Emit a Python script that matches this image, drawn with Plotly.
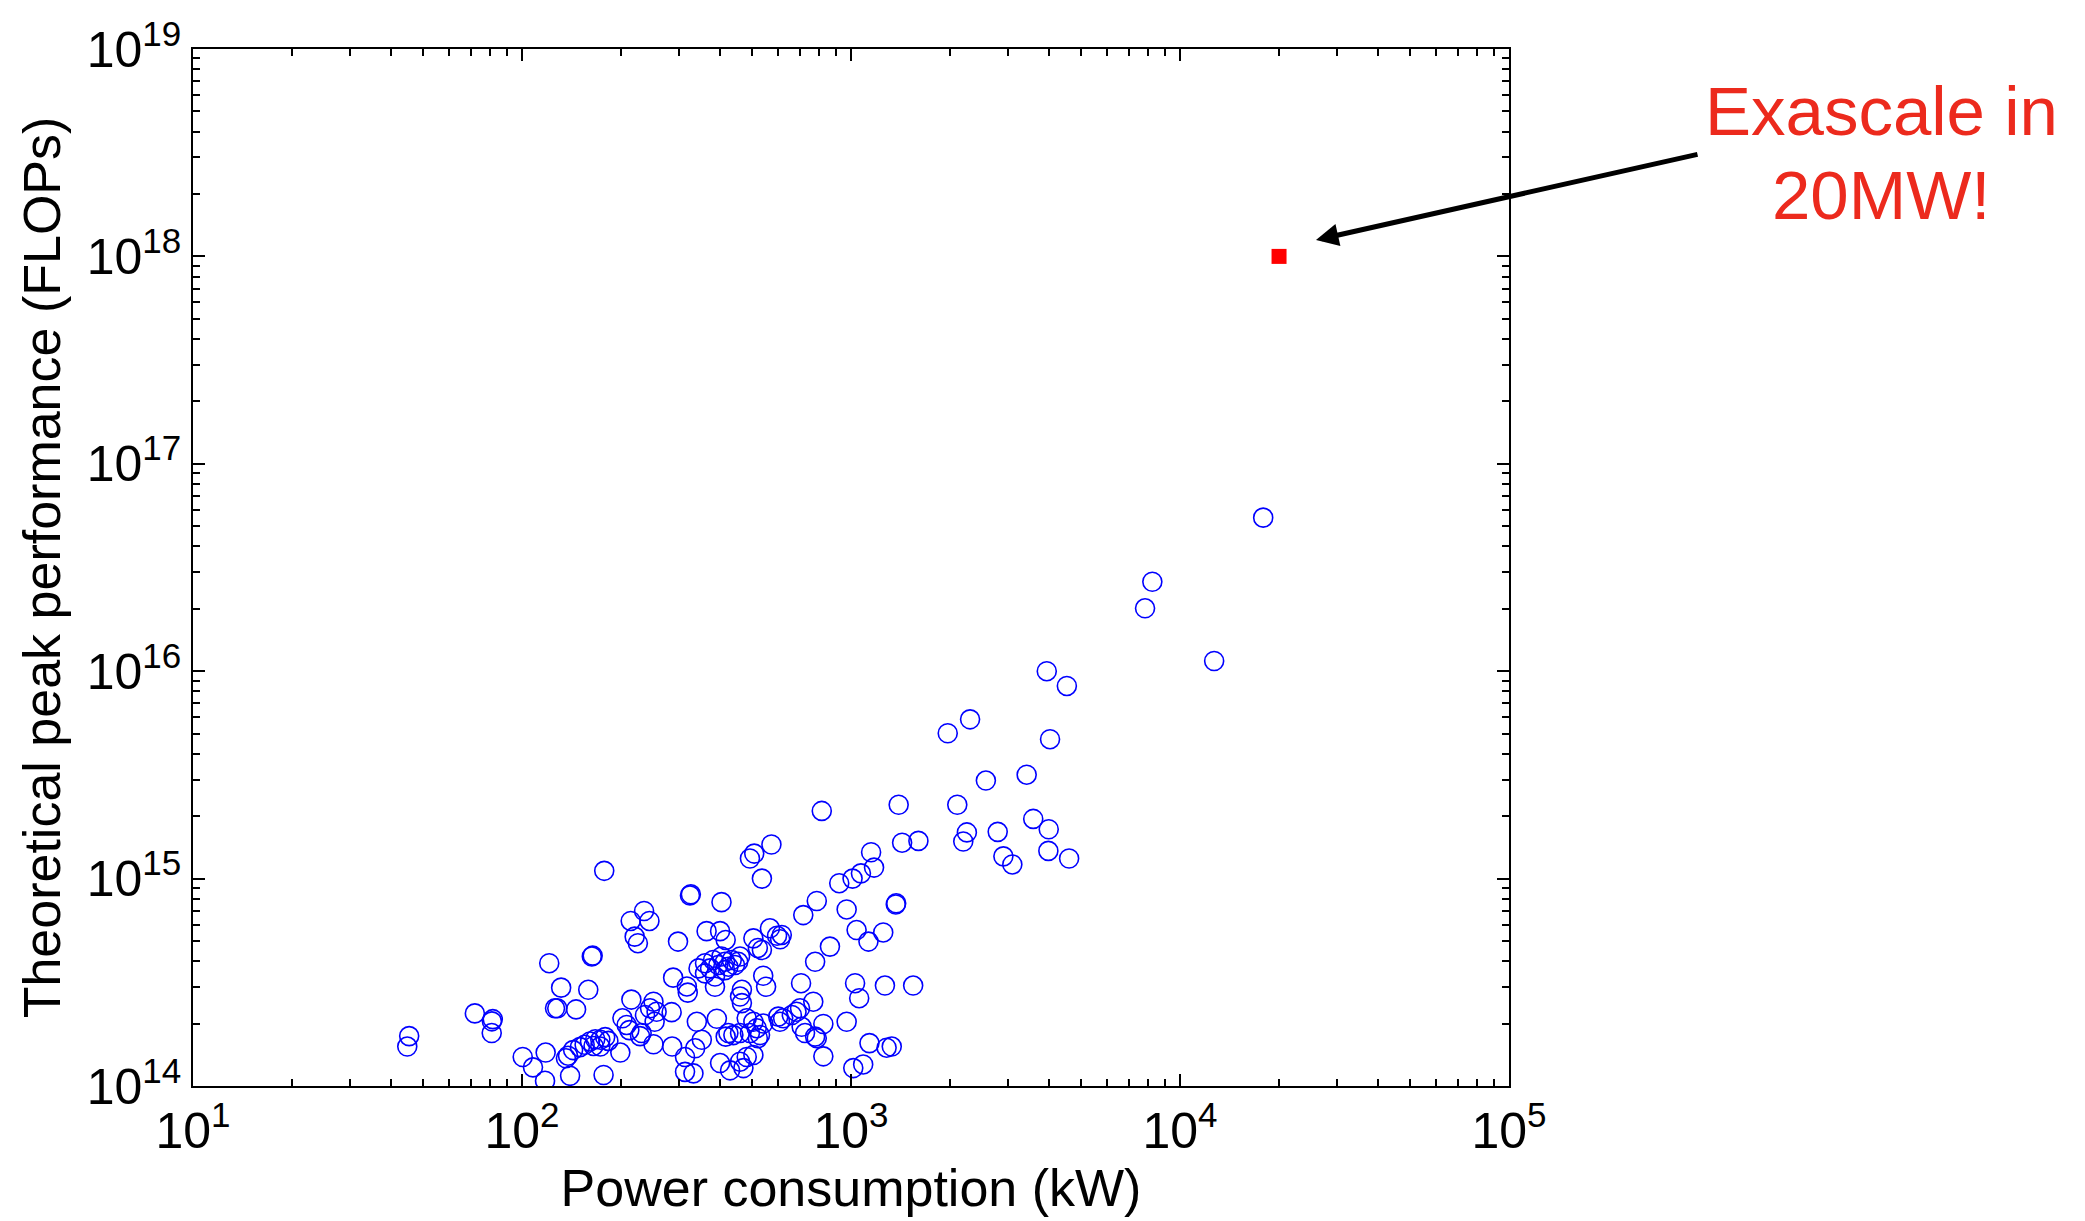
import math
import plotly.graph_objects as go

# ---- data ----
power_kw = [
    45.4, 44.8, 71.9, 81.5, 81.0, 80.9,
    100.5, 118, 108, 117.5, 140, 177, 199, 136, 138, 143, 150, 155, 161, 167,
    173, 179, 183, 173, 165, 121, 163, 164, 131.5, 159, 126, 128, 146, 177.8,
    215, 202, 208, 212, 228.5,
    251, 245, 256.5, 253, 236.5, 231, 251, 286, 285, 288, 317, 319,
    235, 244, 214, 220, 225, 298, 324, 326, 404,
    364, 400, 416, 505, 521, 536, 567, 596, 616, 609, 493, 508, 573, 536,
    787, 716, 970, 815, 921, 1011, 1072, 1151, 1175, 1430, 1603, 1368, 1372,
    1040, 1130, 1253, 863, 778, 705, 768, 1029, 1059, 1268, 1545, 970, 1138,
    1283, 1330, 1016, 1089, 824, 824, 778, 787, 700, 683, 661, 622, 608, 601,
    708, 725, 541, 517, 529, 493, 521, 505, 482, 460, 439, 424, 416,
    466, 460, 466, 541, 552, 391, 340, 352, 336, 313, 313, 332, 400, 429, 471,
    460, 482, 505, 386,
    344, 360, 373, 381, 386, 395, 404, 414, 424, 434, 444, 454, 460, 414, 360,
    1968, 2301, 4027, 2570, 3420, 1396, 2104, 3580, 3990, 2250, 2194, 2792,
    2905, 3093, 3980, 4602, 3936, 4530, 7830, 8240, 12700, 17900,
]
peak_flops = [
    1.74e14, 1.55e14, 2.24e14, 2.10e14, 2.05e14, 1.80e14,
    1.38e14, 1.45e14, 1.23e14, 1.06e14, 1.12e14, 1.13e14, 1.45e14, 1.36e14,
    1.40e14, 1.49e14, 1.54e14, 1.58e14, 1.64e14, 1.68e14,
    1.67e14, 1.72e14, 1.65e14, 1.55e14, 1.56e14, 3.91e14, 4.21e14, 4.25e14,
    2.98e14, 2.91e14, 2.37e14, 2.37e14, 2.34e14, 1.09e15,
    2.61e14, 2.12e14, 1.97e14, 1.86e14, 1.74e14,
    2.55e14, 2.37e14, 2.28e14, 2.04e14, 2.20e14, 1.80e14, 1.59e14, 1.55e14,
    2.27e14, 3.33e14, 3.02e14, 2.82e14,
    6.98e14, 6.25e14, 6.25e14, 5.25e14, 4.88e14, 4.97e14, 8.3e14, 8.4e14, 7.7e14,
    5.58e14, 5.58e14, 5.06e14, 5.15e14, 4.63e14, 4.53e14, 5.76e14, 5.30e14,
    5.35e14, 5.10e14, 1.25e15, 1.32e15, 1.46e15, 1.0e15,
    7.8e14, 6.67e14, 7.1e14, 2.12e15, 9.5e14, 1.0e15, 1.06e15, 1.34e15,
    1.13e15, 1.49e15, 1.52e15, 7.5e14, 7.6e14,
    5.65e14, 4.97e14, 5.5e14, 4.7e14, 3.97e14, 3.13e14, 2.55e14, 3.13e14,
    2.65e14, 3.05e14, 3.05e14, 2.04e14, 1.61e14,
    1.53e14, 1.55e14, 1.22e14, 1.27e14, 1.39e14, 1.99e14, 1.73e14, 1.70e14,
    2.37e14, 2.28e14, 2.20e14, 2.12e14, 2.04e14, 2.16e14,
    1.93e14, 1.80e14, 2.0e14, 1.90e14, 1.76e14, 1.80e14, 1.70e14, 2.04e14,
    2.12e14, 1.80e14, 1.76e14, 1.80e14, 1.73e14,
    2.91e14, 2.70e14, 2.51e14, 3.40e14, 3.01e14, 2.11e14, 2.04e14, 1.67e14,
    1.52e14, 1.38e14, 1.17e14, 1.15e14, 1.29e14, 1.19e14, 1.22e14,
    1.31e14, 1.38e14, 1.41e14, 3.01e14,
    3.69e14, 3.91e14, 3.69e14, 4.05e14, 3.37e14, 3.83e14, 4.21e14, 3.97e14,
    3.76e14, 4.05e14, 3.83e14, 3.97e14, 4.21e14, 3.62e14, 3.49e14,
    5.02e15, 5.86e15, 4.70e15, 2.97e15, 3.17e15, 2.27e15, 2.27e15, 1.94e15,
    1.73e15, 1.67e15, 1.51e15, 1.68e15,
    1.28e15, 1.17e15, 1.36e15, 1.25e15, 1.0e16, 8.49e15, 2.01e16, 2.70e16,
    1.12e16, 5.5e16,
]

target_kw = [20000]
target_flops = [1e18]

x_tick_vals = [10, 100, 1000, 10000, 100000]
x_tick_text = ["10<sup>1</sup>", "10<sup>2</sup>", "10<sup>3</sup>",
               "10<sup>4</sup>", "10<sup>5</sup>"]
y_tick_vals = [1e14, 1e15, 1e16, 1e17, 1e18, 1e19]
y_tick_text = ["10<sup>14</sup>", "10<sup>15</sup>", "10<sup>16</sup>",
               "10<sup>17</sup>", "10<sup>18</sup>", "10<sup>19</sup>"]

x_title = "Power consumption (kW)"
y_title = "Theoretical peak performance (FLOPs)"
note_lines = ["Exascale in", "20MW!"]
arrow_head_kw = 25900
arrow_head_flops = 1.2e18

W, H = 2085, 1221
FONT = "Liberation Sans, Arial, Helvetica, sans-serif"

fig = go.Figure()
fig.add_trace(go.Scatter(
    x=power_kw, y=peak_flops, mode="markers",
    marker=dict(symbol="circle-open", size=19, color="#0000ff",
                line=dict(width=1.6, color="#0000ff")),
    showlegend=False, hoverinfo="x+y",
))
fig.add_trace(go.Scatter(
    x=target_kw, y=target_flops, mode="markers",
    marker=dict(symbol="square", size=15, color="#ff0000",
                line=dict(width=0)),
    showlegend=False,
))

axis_common = dict(
    type="log", showgrid=False, zeroline=False, automargin=False,
    showline=True, linecolor="black", linewidth=1.5,
    mirror="ticks", ticks="inside", ticklen=12, tickwidth=1.5,
    tickcolor="black", tickmode="array",
    tickfont=dict(family=FONT, size=50, color="black"),
    minor=dict(ticks="inside", ticklen=7, tickwidth=1.5,
               tickcolor="black", dtick="D1", showgrid=False),
)

fig.update_layout(
    width=W, height=H,
    margin=dict(l=0, r=0, t=0, b=0, autoexpand=False),
    paper_bgcolor="white", plot_bgcolor="white",
    font=dict(family=FONT, color="black"),
    xaxis=dict(axis_common, range=[1, 5],
               domain=[193 / W, 1509 / W],
               tickvals=x_tick_vals, ticktext=x_tick_text,
               title=dict(text=x_title, font=dict(family=FONT, size=52),
                          standoff=10)),
    yaxis=dict(axis_common, range=[14, 19],
               domain=[1 - 1086 / H, 1 - 49 / H],
               tickvals=y_tick_vals, ticktext=y_tick_text,
               title=dict(text=y_title, font=dict(family=FONT, size=52),
                          standoff=9)),
)

# arrow
fig.add_annotation(
    x=math.log10(arrow_head_kw), y=math.log10(arrow_head_flops),
    xref="x", yref="y", text="", showarrow=True,
    ax=383, ay=-86, axref="pixel", ayref="pixel",
    arrowhead=2, arrowsize=0.9, arrowwidth=5, arrowcolor="black",
)
# annotation text
fig.add_annotation(x=1881 / W, y=1 - 112 / H, xref="paper", yref="paper",
                   text=note_lines[0], showarrow=False,
                   xanchor="center", yanchor="middle",
                   font=dict(family=FONT, size=69, color="#ec2a1d"))
fig.add_annotation(x=1881 / W, y=1 - 195 / H, xref="paper", yref="paper",
                   text=note_lines[1], showarrow=False,
                   xanchor="center", yanchor="middle",
                   font=dict(family=FONT, size=69, color="#ec2a1d"))

fig.write_html("out.html")
